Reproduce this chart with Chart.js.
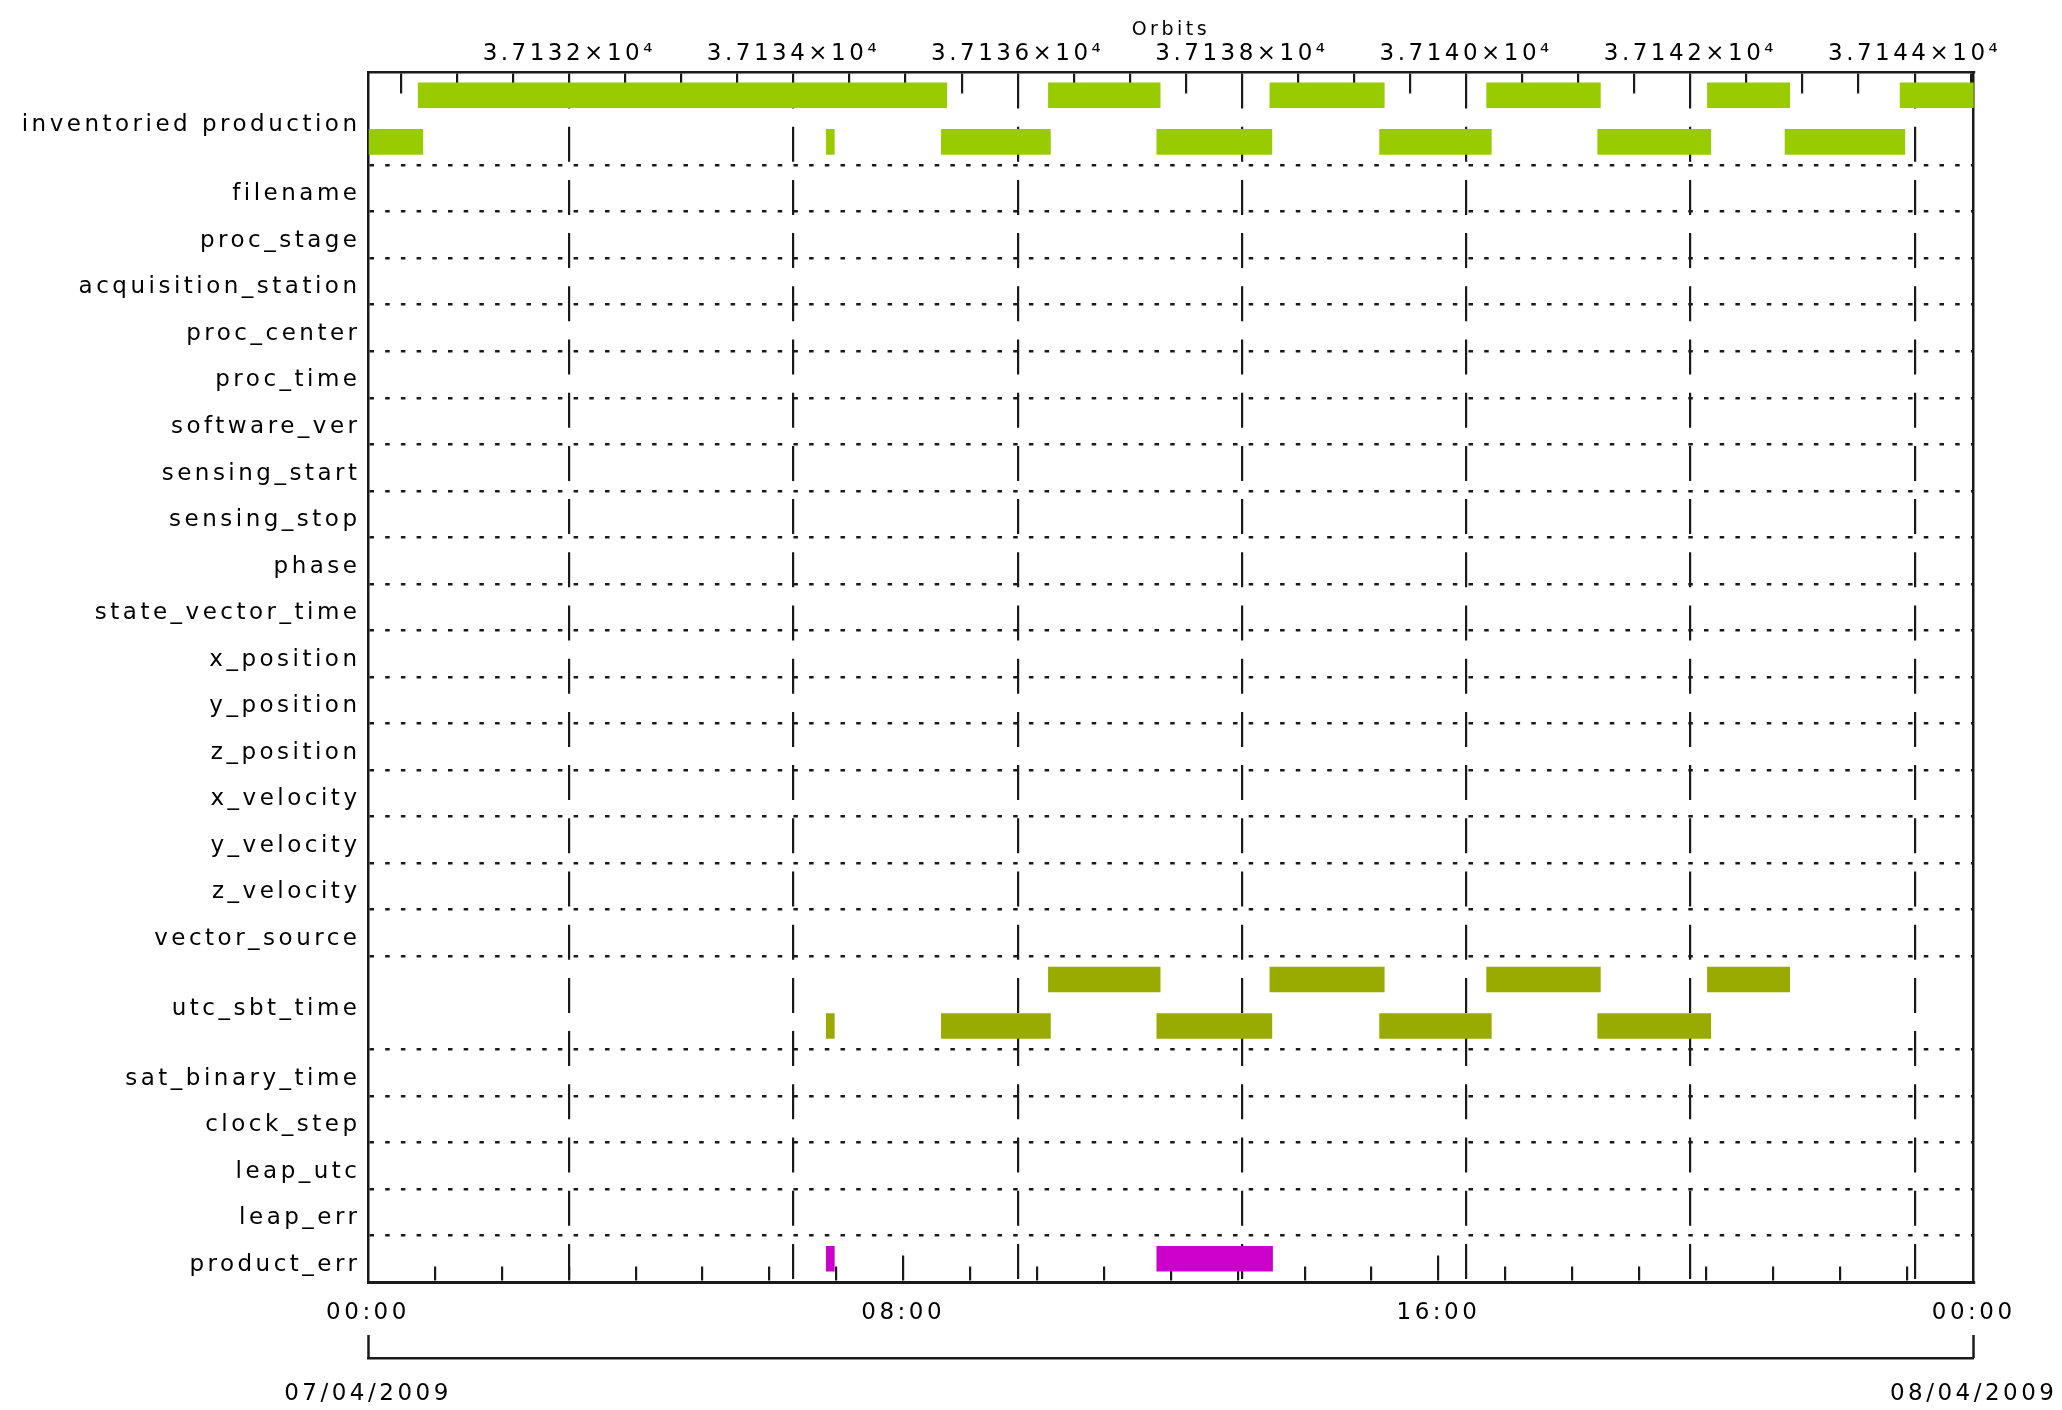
<!DOCTYPE html>
<html>
<head>
<meta charset="utf-8">
<script src="https://cdn.jsdelivr.net/npm/chart.js@4.4.1/dist/chart.umd.min.js"></script>
<style>
  html, body { margin: 0; padding: 0; background: #ffffff; }
  #wrap { width: 2062px; height: 1410px; position: relative; }
</style>
</head>
<body>
<div id="wrap"><canvas id="chart"></canvas></div>
<script>
// ---------------- data ----------------
const rowLabels = ['inventoried production', 'filename', 'proc_stage', 'acquisition_station', 'proc_center',
  'proc_time', 'software_ver', 'sensing_start', 'sensing_stop', 'phase', 'state_vector_time', 'x_position',
  'y_position', 'z_position', 'x_velocity', 'y_velocity', 'z_velocity', 'vector_source', 'utc_sbt_time',
  'sat_binary_time', 'clock_step', 'leap_utc', 'leap_err', 'product_err'];
const rowLanes = [2, 1, 1, 1, 1, 1, 1, 1, 1, 1, 1, 1, 1, 1, 1, 1, 1, 1, 2, 1, 1, 1, 1, 1];

// intervals in hours of 07/04/2009
const inventoriedUpper = [[0.75, 8.65], [10.17, 11.84], [13.48, 15.19], [16.72, 18.42], [20.02, 21.25], [22.90, 24.00]];
const inventoriedLower = [[0.00, 0.82], [6.85, 6.97], [8.57, 10.20], [11.79, 13.51], [15.12, 16.79], [18.38, 20.07], [21.18, 22.97]];
const utcSbtUpper = [[10.17, 11.84], [13.48, 15.19], [16.72, 18.42], [20.02, 21.25]];
const utcSbtLower = [[6.85, 6.97], [8.57, 10.20], [11.79, 13.51], [15.12, 16.79], [18.38, 20.07]];
const productErr = [[6.85, 6.97], [11.79, 13.52]];

// axes
const orbitMin = 37130.205;
const orbitMax = 37144.527;
const orbitLabelValues = [37132, 37134, 37136, 37138, 37140, 37142, 37144];
const orbitTickStep = 0.5;
const hourMin = 0, hourMax = 24, hourTickStep = 1;
const timeLabelHours = [0, 8, 16, 24];
const timeLabels = ['00:00', '08:00', '16:00', '00:00'];
const dateLabelHours = [0, 24];
const dateLabels = ['07/04/2009', '08/04/2009'];

// ---------------- derived layout ----------------
const rowStart = [];
let laneTotal = 0;
rowLanes.forEach(n => { rowStart.push(laneTotal); laneTotal += n; });
const laneCenter = (row, lane) => rowStart[row] + lane + 0.5;
const rowCenter = row => rowStart[row] + rowLanes[row] / 2;
function toBars(rowName, lane, intervals) {
  const r = rowLabels.indexOf(rowName);
  return intervals.map(([s, e]) => ({ x: [s, e], y: laneCenter(r, lane) }));
}

const yTicks = [];
for (let i = 0; i <= rowLanes.length; i++) {
  yTicks.push({ value: i < rowLanes.length ? rowStart[i] : laneTotal, label: '', boundary: true });
}
rowLabels.forEach((name, i) => yTicks.push({ value: rowCenter(i), label: name, boundary: false }));

const orbitTicks = [];
for (let v = Math.ceil(orbitMin / orbitTickStep) * orbitTickStep; v <= orbitMax + 1e-9; v += orbitTickStep) {
  orbitTicks.push(Math.round(v * 1000) / 1000);
}
const hourTicks = [];
for (let h = hourMin; h <= hourMax; h += hourTickStep) hourTicks.push(h);

// ---------------- styling ----------------
const INK = '#1a1a1a';
const colInv = '#99cc00';
const colUtc = '#99aa00';
const colErr = '#cc00cc';

Chart.defaults.font.family = "'DejaVu Sans', sans-serif";
Chart.defaults.font.size = 23;
Chart.defaults.color = '#000000';

const spacingPlugin = {
  id: 'letterSpacing',
  beforeDraw(chart) { chart.ctx.letterSpacing = '3.5px'; }
};

const ctx = document.getElementById('chart').getContext('2d');
new Chart(ctx, {
  type: 'bar',
  data: {
    datasets: [
      {
        label: 'inventoried production',
        xAxisID: 'x', yAxisID: 'y',
        data: [...toBars('inventoried production', 0, inventoriedUpper), ...toBars('inventoried production', 1, inventoriedLower)],
        backgroundColor: colInv
      },
      {
        label: 'utc_sbt_time',
        xAxisID: 'x', yAxisID: 'y',
        data: [...toBars('utc_sbt_time', 0, utcSbtUpper), ...toBars('utc_sbt_time', 1, utcSbtLower)],
        backgroundColor: colUtc
      },
      {
        label: 'product_err',
        xAxisID: 'x', yAxisID: 'y',
        data: toBars('product_err', 0, productErr),
        backgroundColor: colErr
      }
    ]
  },
  options: {
    indexAxis: 'y',
    responsive: true,
    maintainAspectRatio: false,
    animation: false,
    devicePixelRatio: 1,
    layout: { padding: { left: 0, right: 88, top: 0, bottom: 0 } },
    datasets: {
      bar: { grouped: false, barThickness: 25, borderWidth: 0, borderSkipped: false }
    },
    plugins: { legend: { display: false }, tooltip: { enabled: false }, title: { display: false } },
    scales: {
      y: {
        type: 'linear', axis: 'y', position: 'left', reverse: true,
        min: 0, max: laneTotal, offset: false,
        afterBuildTicks: s => { s.ticks = yTicks.map(t => ({ value: t.value })); },
        afterFit: s => { s.width = 368; },
        ticks: {
          autoSkip: false, padding: 7.5, labelOffset: 6, color: '#000',
          callback: (v, i) => yTicks[i] ? yTicks[i].label : ''
        },
        grid: {
          offset: false, drawTicks: false, lineWidth: 2.5,
          color: c => {
            const t = yTicks[c.index];
            return (t && t.boundary && t.value > 0 && t.value < laneTotal) ? INK : 'rgba(0,0,0,0)';
          }
        },
        border: { display: true, color: INK, width: 2.5, dash: c => (c.tick ? [4.5, 11.2] : []) }
      },
      yR: {
        type: 'linear', axis: 'y', position: 'right', reverse: true,
        min: 0, max: laneTotal, offset: false,
        afterFit: s => { s.width = 0; },
        ticks: { display: false },
        grid: { offset: false, drawOnChartArea: false, drawTicks: false },
        border: { display: true, color: INK, width: 2.5 }
      },
      x2: {
        type: 'linear', axis: 'x', position: 'top',
        min: orbitMin, max: orbitMax, beginAtZero: false, offset: false,
        afterBuildTicks: s => { s.ticks = orbitTicks.map(v => ({ value: v })); },
        afterFit: s => { s.height = 72; },
        title: { display: true, text: 'Orbits', font: { size: 19 }, color: '#000', padding: { top: 19, bottom: 0 } },
        ticks: {
          autoSkip: false, maxRotation: 0, minRotation: 0, padding: 4, color: '#000',
          callback: v => orbitLabelValues.includes(Math.round(v * 1000) / 1000) ? (v / 1e4).toFixed(4) + '×10⁴' : ''
        },
        grid: {
          offset: false, drawTicks: false, lineWidth: 2.2, color: INK
        },
        border: {
          display: true, color: INK, width: 2.5,
          dash: c => {
            if (!c.tick) return [];
            return orbitLabelValues.includes(Math.round(c.tick.value * 1000) / 1000) ? [35, 18.2] : [20, 4000];
          }
        }
      },
      x: {
        type: 'linear', axis: 'x', position: 'bottom', weight: 0,
        min: hourMin, max: hourMax, beginAtZero: false, offset: false,
        afterBuildTicks: s => { s.ticks = hourTicks.map(v => ({ value: v })); },
        afterFit: s => { s.height = 53; },
        ticks: {
          autoSkip: false, maxRotation: 0, minRotation: 0, padding: 17, color: '#000',
          callback: v => { const k = timeLabelHours.indexOf(v); return k >= 0 ? timeLabels[k] : ''; }
        },
        grid: {
          offset: false, drawTicks: false, lineWidth: 2.2,
          color: c => (c.tick && (c.tick.value === hourMin || c.tick.value === hourMax)) ? 'rgba(0,0,0,0)' : INK
        },
        border: {
          display: true, color: INK, width: 3,
          dash: c => {
            if (!c.tick || !c.chart.chartArea) return [];
            const len = timeLabelHours.includes(c.tick.value) ? 25 : 14;
            const L = c.chart.chartArea.height - 1.5;
            return [0, Math.max(0, L - len), len, 4000];
          }
        }
      },
      x3: {
        type: 'linear', axis: 'x', position: 'bottom', weight: 1,
        min: hourMin, max: hourMax, beginAtZero: false, offset: false,
        afterBuildTicks: s => { s.ticks = dateLabelHours.map(v => ({ value: v })); },
        afterFit: s => { s.height = 23; },
        ticks: { display: false },
        grid: { offset: false, drawOnChartArea: false, drawTicks: true, tickLength: 23, tickWidth: 2.5, tickColor: INK },
        border: { display: false }
      },
      x4: {
        type: 'linear', axis: 'x', position: 'bottom', weight: 2,
        min: hourMin, max: hourMax, beginAtZero: false, offset: false,
        afterBuildTicks: s => { s.ticks = dateLabelHours.map(v => ({ value: v })); },
        afterFit: s => { s.height = 52; },
        ticks: {
          autoSkip: false, maxRotation: 0, minRotation: 0, padding: 22, color: '#000',
          callback: v => { const k = dateLabelHours.indexOf(v); return k >= 0 ? dateLabels[k] : ''; }
        },
        grid: { offset: false, drawOnChartArea: false, drawTicks: false },
        border: { display: true, color: INK, width: 2.5 }
      }
    }
  },
  plugins: [spacingPlugin]
});
</script>
</body>
</html>
